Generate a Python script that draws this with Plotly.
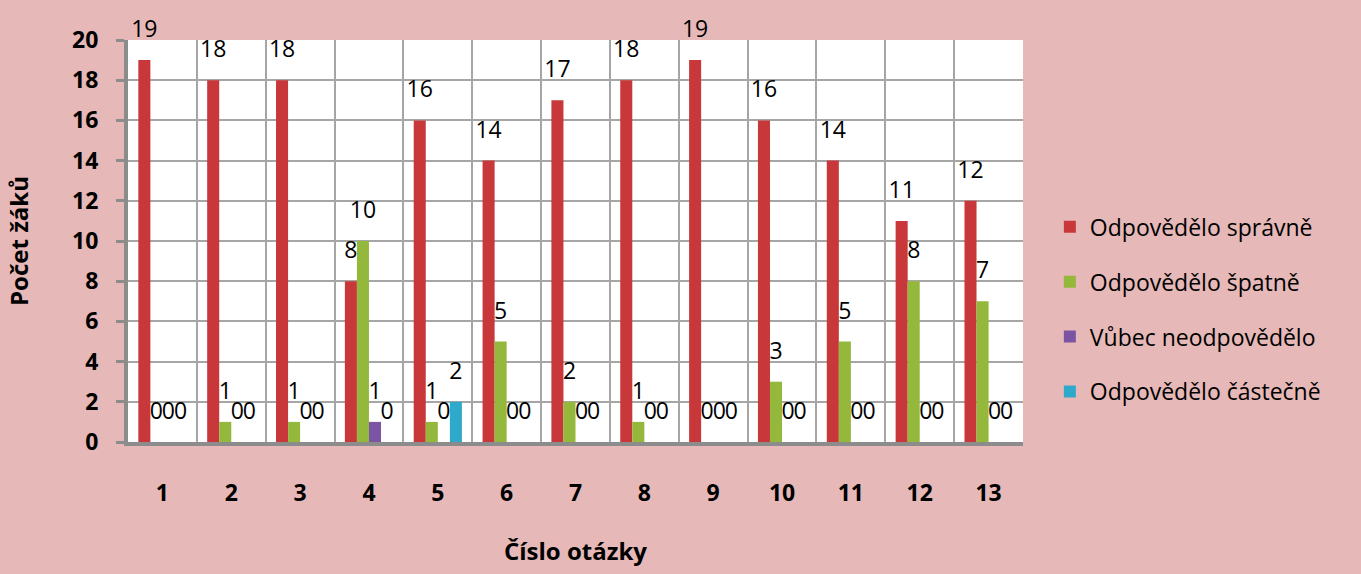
import plotly.graph_objects as go

# question numbers
questions = [str(i) for i in range(1, 14)]

series_names = ["Odpovědělo správně", "Odpovědělo špatně", "Vůbec neodpovědělo", "Odpovědělo částečně"]
spravne = [19, 18, 18, 8, 16, 14, 17, 18, 19, 16, 14, 11, 12]
spatne = [0, 1, 1, 10, 1, 5, 2, 1, 0, 3, 5, 8, 7]
vubec = [0, 0, 0, 1, 0, 0, 0, 0, 0, 0, 0, 0, 0]
castecne = [0, 0, 0, 0, 2, 0, 0, 0, 0, 0, 0, 0, 0]

y_ticks = list(range(0, 21, 2))

fills = ["#C8383A", "#93B83C", "#7B55A3", "#2FA9C9"]

FONT = "Open Sans"

fig = go.Figure()

for i, (name, vals) in enumerate(zip(series_names, [spravne, spatne, vubec, castecne])):
    fig.add_trace(go.Bar(
        x=questions,
        y=vals,
        name=name,
        offsetgroup=str(i),
        legendgroup=str(i),
        marker=dict(color=fills[i], line=dict(width=0)),
    ))

# data labels, lifted above the bars like in the original
for i, vals in enumerate([spravne, spatne, vubec, castecne]):
    fig.add_trace(go.Scatter(
        x=questions,
        y=vals,
        mode="markers+text",
        text=[str(v) for v in vals],
        textposition="top center",
        textfont=dict(family=FONT, size=23, color="black"),
        marker=dict(size=26, color="rgba(0,0,0,0)"),
        offsetgroup=str(i),
        showlegend=False,
        hoverinfo="skip",
        cliponaxis=False,
    ))

fig.update_layout(
    width=1361,
    height=574,
    barmode="group",
    bargap=0.3,
    bargroupgap=0,
    scattermode="group",
    scattergap=0.3,
    paper_bgcolor="#E6B8B7",
    plot_bgcolor="white",
    margin=dict(l=128, r=338, t=40, b=130),
    font=dict(family=FONT, color="black"),
    legend=dict(
        x=1.03, y=0.33, xanchor="left", yanchor="middle",
        font=dict(family=FONT, size=23),
        tracegroupgap=22,
        bgcolor="rgba(0,0,0,0)",
    ),
)

fig.update_xaxes(
    type="category",
    tickson="boundaries",
    showgrid=True,
    gridcolor="#A6A6A6",
    gridwidth=1.5,
    showline=True,
    linecolor="#8C8C8C",
    linewidth=4,
    ticks="",
    tickfont=dict(family=FONT, size=23, color="black", weight="bold"),
    ticklabelstandoff=27,
    title=dict(text="Číslo otázky", font=dict(family=FONT, size=24, weight="bold"), standoff=38),
)

fig.update_yaxes(
    range=[0, 20],
    tickvals=y_ticks,
    showgrid=True,
    gridcolor="#A6A6A6",
    gridwidth=1.5,
    showline=True,
    linecolor="#8C8C8C",
    linewidth=4,
    ticks="outside",
    ticklen=8,
    tickwidth=3,
    tickcolor="#8C8C8C",
    tickfont=dict(family=FONT, size=23, color="black", weight="bold"),
    ticklabelstandoff=13,
    zeroline=False,
    title=dict(text="Počet žáků", font=dict(family=FONT, size=24, weight="bold"), standoff=38),
)

fig.write_html("out.html", config={"displayModeBar": False},
               post_script="document.body.style.margin='0';")
